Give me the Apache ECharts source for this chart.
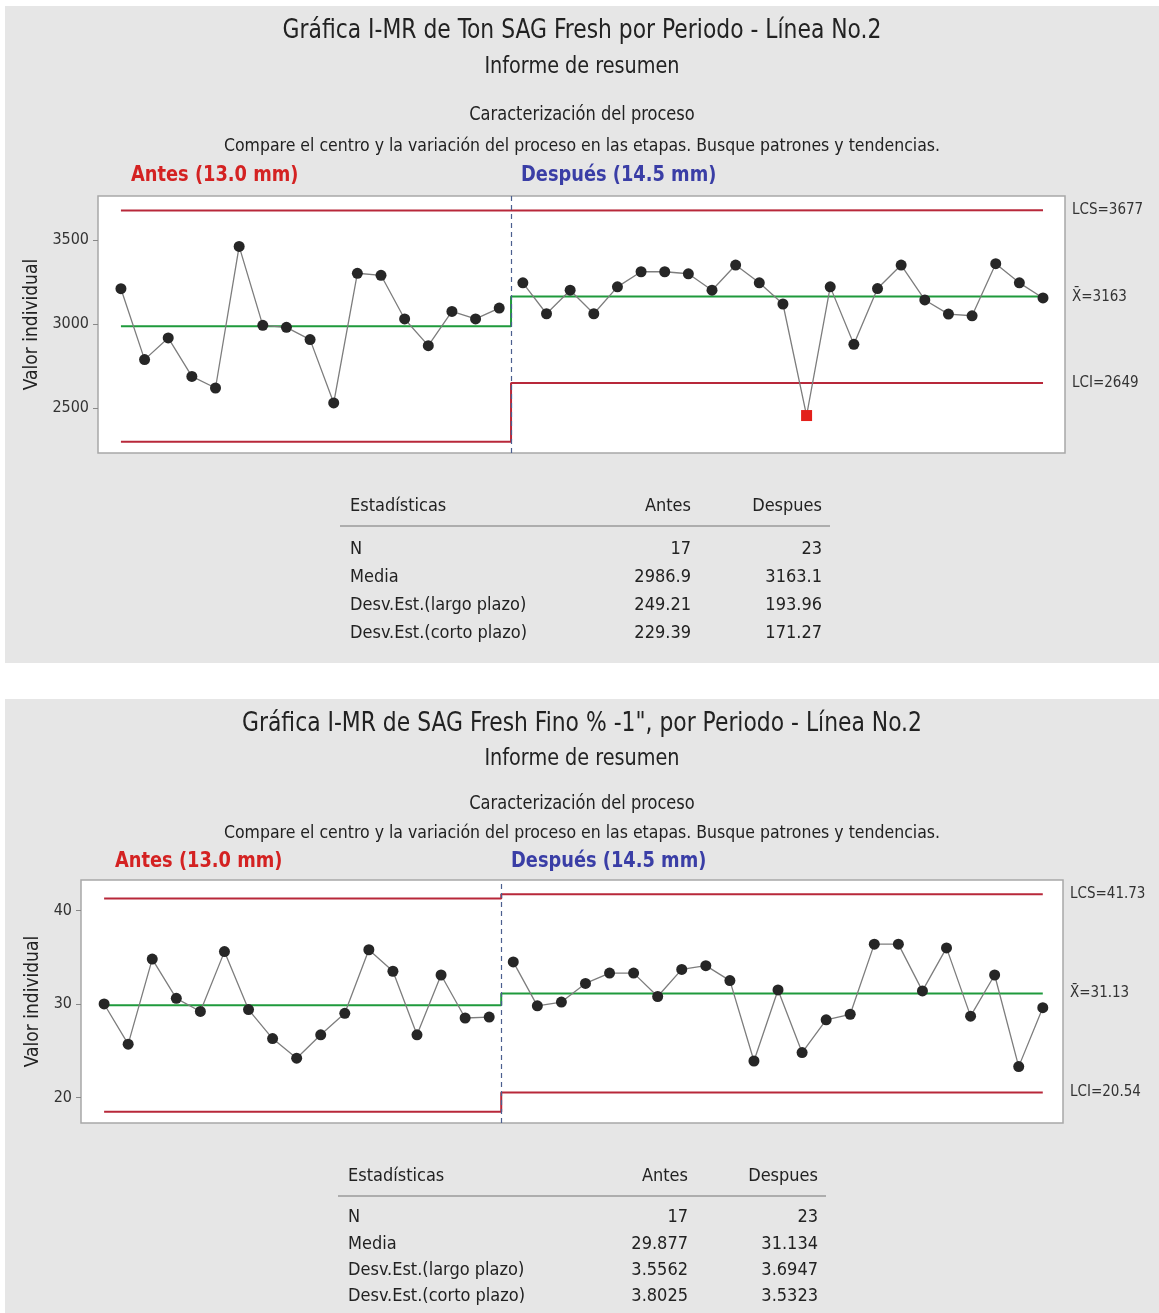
<!DOCTYPE html>
<html>
<head>
<meta charset="utf-8">
<script src="https://cdn.jsdelivr.net/npm/echarts@6/dist/echarts.min.js"></script>
<style>
  html, body { margin: 0; padding: 0; background: #fff; }
  #charts { width: 1159px; height: 1313px; }
</style>
</head>
<body>
<div id="charts"></div>
<script>
// --- data ---
const topAntes = [3210, 2788, 2917, 2688, 2619, 3462, 2992, 2980, 2907, 2530, 3302, 3290, 3030, 2871, 3075, 3030, 3095];
const topDespues = [3245, 3061, 3201, 3061, 3221, 3311, 3311, 3299, 3201, 3351, 3245, 3119, 2455, 3221, 2879, 3211, 3351, 3143, 3059, 3049, 3359, 3245, 3155];
// [LCS, media, LCI]
const topLimAntes = [3675.1, 2986.9, 2298.7];
const topLimDespues = [3677, 3163, 2649];
const topTicks = [2500, 3000, 3500];
const topLabels = ['LCS=3677', 'X\u0304=3163', 'LCI=2649'];

const botAntes = [30.0, 25.7, 34.8, 30.6, 29.2, 35.6, 29.4, 26.3, 24.2, 26.7, 29.0, 35.8, 33.5, 26.7, 33.1, 28.5, 28.6];
const botDespues = [34.5, 29.8, 30.2, 32.2, 33.3, 33.3, 30.8, 33.7, 34.1, 32.5, 23.9, 31.5, 24.8, 28.3, 28.9, 36.4, 36.4, 31.4, 36.0, 28.7, 33.1, 23.3, 29.6];
const botLimAntes = [41.28, 29.877, 18.47];
const botLimDespues = [41.73, 31.134, 20.54];
const botTicks = [20, 30, 40];
const botLabels = ['LCS=41.73', 'X\u0304=31.13', 'LCI=20.54'];

const statNames = ['N', 'Media', 'Desv.Est.(largo plazo)', 'Desv.Est.(corto plazo)'];
const topStatsAntes = ['17', '2986.9', '249.21', '229.39'];
const topStatsDespues = ['23', '3163.1', '193.96', '171.27'];
const botStatsAntes = ['17', '29.877', '3.5562', '3.8025'];
const botStatsDespues = ['23', '31.134', '3.6947', '3.5323'];

const FONT = '"DejaVu Sans Condensed", "Liberation Sans Narrow", sans-serif';
const RED = '#b8283a';
const GREEN = '#1f9a3c';

var chartDom = document.getElementById('charts');
var myChart = echarts.init(chartDom);

txt = (x, y, text, size, extra, sx) => {
    return {
        type: 'text', x: x, y: y, scaleX: sx || 1, silent: true,
        style: Object.assign({
            text: text, fontSize: size, fontFamily: FONT, fill: '#222',
            textAlign: 'left', textVerticalAlign: 'middle'
        }, extra || {})
    };
}

// ys: title, informe, caracterizacion, compare, antes/despues row
headerGraphics = (ys, title, antesX, despuesX) => {
    return [
        txt(582, ys[0], title, 26, {textAlign: 'center'}, 0.935),
        txt(582, ys[1], 'Informe de resumen', 23, {textAlign: 'center'}, 0.93),
        txt(582, ys[2], 'Caracterización del proceso', 19, {textAlign: 'center'}, 0.95),
        txt(582, ys[3], 'Compare el centro y la variación del proceso en las etapas. Busque patrones y tendencias.', 17.5, {textAlign: 'center'}),
        txt(antesX, ys[4], 'Antes (13.0 mm)', 22, {fontWeight: 'bold', fill: '#d42222'}, 0.9),
        txt(despuesX, ys[4], 'Después (14.5 mm)', 22, {fontWeight: 'bold', fill: '#3a3ea6'}, 0.9)
    ];
}

tableGraphics = (x0, y0, colA, colB, rowStep, antes, despues) => {
    let g = [
        txt(x0, y0, 'Estadísticas', 18),
        txt(colA, y0, 'Antes', 18, {textAlign: 'right'}),
        txt(colB, y0, 'Despues', 18, {textAlign: 'right'}),
        {type: 'line', silent: true, shape: {x1: x0 - 10, y1: y0 + 20, x2: colB + 8, y2: y0 + 20},
         style: {stroke: '#9a9a9a', lineWidth: 1.5}}
    ];
    statNames.forEach((name, i) => {
        const y = y0 + rowStep * 1.58 + i * rowStep;
        g.push(txt(x0, y, name, 18));
        g.push(txt(colA, y, antes[i], 18, {textAlign: 'right'}));
        g.push(txt(colB, y, despues[i], 18, {textAlign: 'right'}));
    });
    return g;
}

stepLine = (gridIdx, limA, limD, k, color) => {
    return {
        type: 'line', xAxisIndex: gridIdx, yAxisIndex: gridIdx,
        symbol: 'none', silent: true, z: 1,
        lineStyle: {color: color, width: 2},
        data: [[0, limA[k]], [16.5, limA[k]], [16.5, limD[k]], [39, limD[k]]]
    };
}

pointSeries = (gridIdx, values, start, lci) => {
    return {
        type: 'line', xAxisIndex: gridIdx, yAxisIndex: gridIdx, z: 5,
        symbol: 'circle', symbolSize: 11,
        lineStyle: {color: '#7d7d7d', width: 1.3},
        itemStyle: {color: '#262626'},
        data: values.map((v, i) => {
            if (v < lci) {
                return {value: [start + i, v], symbol: 'rect', symbolSize: 11, itemStyle: {color: '#e3201b'}};
            }
            return [start + i, v];
        })
    };
}

// vertical stage divider + limit labels on the right of the plot
guideSeries = (gridIdx, limD, labels) => {
    const hidden = {color: 'rgba(0,0,0,0)', width: 1, type: 'solid'};
    return {
        type: 'line', xAxisIndex: gridIdx, yAxisIndex: gridIdx, silent: true,
        symbol: 'none', lineStyle: {opacity: 0},
        data: [[0, limD[1]]],
        markLine: {
            symbol: 'none', silent: true, animation: false,
            data: [
                {xAxis: 16.5, lineStyle: {color: '#4b5f8f', type: [5, 4], width: 1.2}, label: {show: false}},
                {yAxis: limD[0], lineStyle: hidden, label: {formatter: labels[0]}},
                {yAxis: limD[1], lineStyle: hidden, label: {formatter: labels[1]}},
                {yAxis: limD[2], lineStyle: hidden, label: {formatter: labels[2]}}
            ],
            label: {show: true, position: 'end', distance: 7, color: '#333', fontSize: 15, fontFamily: FONT}
        }
    };
}

yAxisFor = (gridIdx, min, max, ticks, gap) => {
    return {
        type: 'value', gridIndex: gridIdx, min: min, max: max,
        name: 'Valor individual', nameLocation: 'middle', nameGap: gap, nameRotate: 90,
        nameTextStyle: {fontSize: 19, color: '#222', fontFamily: FONT},
        splitLine: {show: false},
        axisLine: {show: false, onZero: false},
        axisTick: {show: true, length: 5, lineStyle: {color: '#888'}, customValues: ticks},
        axisLabel: {fontSize: 16, color: '#333', fontFamily: FONT, margin: 9, customValues: ticks,
                    formatter: v => String(v)}
    };
}

option = {
    animation: false,
    backgroundColor: '#ffffff',
    graphic: [
        {type: 'rect', silent: true, z: -10, shape: {x: 5, y: 6, width: 1154, height: 657}, style: {fill: '#e6e6e6'}},
        {type: 'rect', silent: true, z: -10, shape: {x: 5, y: 699, width: 1154, height: 614}, style: {fill: '#e6e6e6'}},
        ...headerGraphics([31, 67, 115, 146, 175], 'Gráfica I-MR de Ton SAG Fresh por Periodo - Línea No.2', 131, 521),
        ...headerGraphics([724, 759, 804, 833, 861], 'Gráfica I-MR de SAG Fresh Fino % -1", por Periodo - Línea No.2', 115, 511),
        ...tableGraphics(350, 506, 691, 822, 27.7, topStatsAntes, topStatsDespues),
        ...tableGraphics(348, 1176, 688, 818, 26.3, botStatsAntes, botStatsDespues)
    ],
    grid: [
        {left: 98, top: 196, width: 967, height: 257, show: true, backgroundColor: '#fff', borderColor: '#a8a8a8', borderWidth: 1.5},
        {left: 81, top: 880, width: 982, height: 243, show: true, backgroundColor: '#fff', borderColor: '#a8a8a8', borderWidth: 1.5}
    ],
    xAxis: [
        {type: 'value', gridIndex: 0, min: -0.97, max: 39.93, show: false},
        {type: 'value', gridIndex: 1, min: -0.96, max: 39.84, show: false}
    ],
    yAxis: [
        yAxisFor(0, 2232, 3762, topTicks, 56),
        yAxisFor(1, 17.27, 43.26, botTicks, 38)
    ],
    series: [
        stepLine(0, topLimAntes, topLimDespues, 0, RED),
        stepLine(0, topLimAntes, topLimDespues, 1, GREEN),
        stepLine(0, topLimAntes, topLimDespues, 2, RED),
        guideSeries(0, topLimDespues, topLabels),
        pointSeries(0, topAntes, 0, topLimAntes[2]),
        pointSeries(0, topDespues, 17, topLimDespues[2]),

        stepLine(1, botLimAntes, botLimDespues, 0, RED),
        stepLine(1, botLimAntes, botLimDespues, 1, GREEN),
        stepLine(1, botLimAntes, botLimDespues, 2, RED),
        guideSeries(1, botLimDespues, botLabels),
        pointSeries(1, botAntes, 0, botLimAntes[2]),
        pointSeries(1, botDespues, 17, botLimDespues[2])
    ]
};

myChart.setOption(option);
</script>
</body>
</html>
